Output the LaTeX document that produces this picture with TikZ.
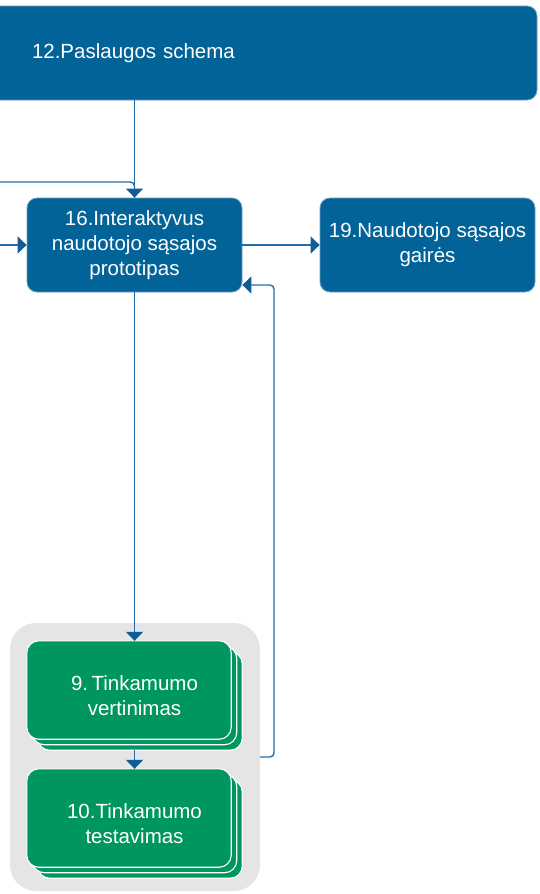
\documentclass[tikz,border=0pt]{standalone}
\usepackage{fontspec}
\setmainfont{Liberation Sans}
\usetikzlibrary{arrows.meta,calc}

\definecolor{boxblue}{RGB}{2,99,153}
\definecolor{boxedge}{RGB}{110,160,195}
\definecolor{boxgreen}{RGB}{0,150,95}
\definecolor{groupgrey}{RGB}{229,229,229}
\definecolor{linkblue}{RGB}{35,110,170}
\definecolor{tipblue}{RGB}{18,92,150}

\pgfdeclarelayer{groups}
\pgfdeclarelayer{stacks}
\pgfsetlayers{groups,stacks,main}

\tikzset{
  x=1pt, y=-1pt,
  bluebox/.style={draw=boxedge, line width=0.8pt, fill=boxblue, rounded corners=10pt,
    text=white, font=\fontsize{20.5}{25}\selectfont, align=center,
    minimum width=215pt, minimum height=94pt, inner sep=0pt},
  stacktext/.style={text=white, font=\fontsize{20.5}{25}\selectfont, align=center,
    minimum width=215pt, minimum height=109pt, inner sep=0pt},
  stacklayer/.style={fill=boxgreen, draw=white, line width=1.1pt, rounded corners=12pt},
  groupbox/.style={fill=groupgrey, rounded corners=26pt, inner sep=0pt},
  conn/.style={draw=linkblue, line width=1.4pt, rounded corners=4pt,
    -{Triangle[width=17pt,length=9pt,fill=tipblue,color=tipblue]}},
  plainconn/.style={draw=linkblue, line width=1.4pt, rounded corners=4pt},
}

\begin{document}
\begin{tikzpicture}
\useasboundingbox (0,0) rectangle (539,894);

% grey group holding the two usability stages
\begin{pgfonlayer}{groups}
\node[groupbox, minimum width=250pt, minimum height=268pt] (grp) at (135,757) {};
\end{pgfonlayer}

% top banner box, running off the left edge
\node[bluebox, minimum width=557pt, text width=453pt, align=left, inner xsep=52pt]
  (s12) at (258.5,53) {12.Paslaugos schema};

\node[bluebox] (s16) at (134.5,245) {16.Interaktyvus\\naudotojo sąsajos\\prototipas};
\node[bluebox] (s19) at (427.5,245) {19.Naudotojo sąsajos\\gairės};

% stacked green stages: text node spans the whole stack
\node[stacktext] (s9)  at (134.5,695.5) {9.\,Tinkamumo\\vertinimas};
\node[stacktext] (s10) at (134.5,823.5) {10.Tinkamumo\\testavimas};

\begin{pgfonlayer}{stacks}
  \foreach \s in {s9,s10}{
    \foreach \k in {2,1,0}{
      \path[stacklayer] ($(\s.north west)+(5.5*\k,5.5*\k)$)
        rectangle ($(\s.south east)+(-11+5.5*\k,-11+5.5*\k)$);
    }
  }
\end{pgfonlayer}

% connectors
\coordinate (inA) at (0,182);
\coordinate (inB) at (0,245);
\coordinate (fb)  at (274,285);

\draw[plainconn] (s12.south -| s16.north) -- (s16.north);
\draw[conn] (inA) -| (s16.north);
\draw[conn] (inB) -- (s16.west);
\draw[conn] (s16.east) -- (s19.west);
\draw[conn] (s16.south) -- (s9.north);
\draw[conn] (s9.south) -- (s10.north);
\draw[conn] (grp.east) -| (fb) -- (s16.east |- fb);
\end{tikzpicture}
\end{document}
